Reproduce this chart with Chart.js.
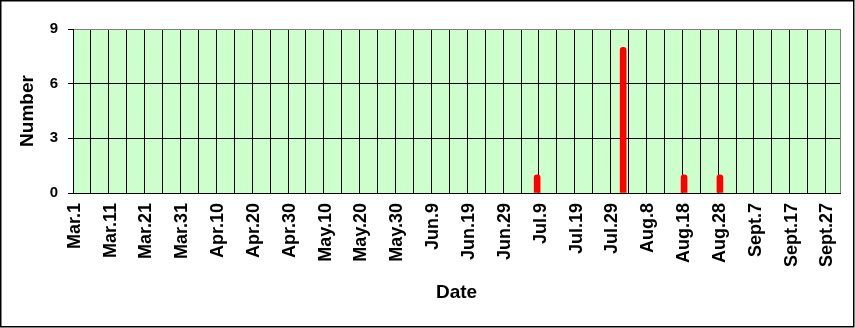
<!DOCTYPE html>
<html>
<head>
<meta charset="utf-8">
<script src="https://cdn.jsdelivr.net/npm/chart.js@4/dist/chart.umd.min.js"></script>
<style>
    body { margin: 0; background: #fff; }
    #wrap { position: relative; width: 855px; height: 328px; }
</style>
</head>
<body>
<div id="wrap"><canvas id="chart"></canvas></div>
<script>
const MONTH_NAMES = ['Mar.', 'Apr.', 'May.', 'Jun.', 'Jul.', 'Aug.', 'Sept.'];
const MONTH_DAYS = [31, 30, 31, 30, 31, 31, 30];

// days that had records, and how many
const eventDates = ['Jul.8', 'Aug.1', 'Aug.18', 'Aug.28'];
const eventCounts = [1, 8, 1, 1];

const yTicks = [0, 3, 6, 9];

const FONT = '"Liberation Sans", Arial, sans-serif';

// one category per day, Mar.1 .. Sept.30
const days = [];
MONTH_NAMES.forEach((m, i) => {
    for (let d = 1; d <= MONTH_DAYS[i]; d++) days.push(m + d);
});

const counts = days.map(() => null);
eventDates.forEach((d, i) => {
    counts[days.indexOf(d)] = eventCounts[i];
});

const frame = {
    id: 'frame',
    beforeDraw(chart) {
        const {ctx, chartArea: a} = chart;
        ctx.save();
        ctx.fillStyle = '#ccffcc';
        ctx.fillRect(a.left, a.top, a.right - a.left, a.bottom - a.top);
        ctx.restore();
    },
    afterDraw(chart) {
        const ctx = chart.ctx;
        ctx.save();
        ctx.strokeStyle = '#000';
        ctx.lineWidth = 1.5;
        ctx.strokeRect(0.75, 0.75, 853, 326);
        ctx.restore();
    }
};

new Chart(document.getElementById('chart'), {
    type: 'bar',
    data: {
        labels: days,
        datasets: [{
            data: counts,
            backgroundColor: '#ff0000',
            barThickness: 6,
            borderRadius: 3,
            borderSkipped: 'bottom'
        }]
    },
    plugins: [frame],
    options: {
        responsive: true,
        maintainAspectRatio: false,
        animation: false,
        layout: { padding: { top: 29, right: 15, left: 0, bottom: 0 } },
        plugins: {
            legend: { display: false },
            tooltip: { enabled: false }
        },
        scales: {
            x: {
                afterFit: (scale) => {
                    scale.height = 135;
                    scale.paddingLeft = 0;
                    scale.paddingRight = 0;
                },
                grid: {
                    offset: true,
                    color: (c) => c.index === undefined ? '#808080' : (c.index % 5 === 0 ? '#000' : 'rgba(0,0,0,0)'),
                    lineWidth: 1,
                    tickLength: 0
                },
                border: { color: '#000', width: 1 },
                ticks: {
                    autoSkip: false,
                    minRotation: 90,
                    maxRotation: 90,
                    padding: 10,
                    color: '#000',
                    font: { family: FONT, size: 18, weight: 'bold' },
                    callback: (v, i) => i % 10 === 0 ? days[i] : ''
                },
                title: {
                    display: true,
                    text: 'Date',
                    color: '#000',
                    font: { family: FONT, size: 19, weight: 'bold' },
                    padding: { top: 0, bottom: 23.6 }
                }
            },
            y: {
                min: 0,
                max: 9,
                afterFit: (scale) => {
                    scale.width = 73;
                    scale.paddingTop = 0;
                    scale.paddingBottom = 0;
                },
                afterBuildTicks: (scale) => { scale.ticks = yTicks.map(v => ({value: v})); },
                grid: {
                    color: (c) => c.tick && c.tick.value === 9 ? '#808080' : '#000',
                    tickColor: '#000',
                    tickLength: 5
                },
                border: { color: '#000', width: 1 },
                ticks: {
                    padding: 10,
                    color: '#000',
                    font: { family: FONT, size: 15, weight: 'bold' }
                },
                title: {
                    display: true,
                    text: 'Number',
                    color: '#000',
                    font: { family: FONT, size: 19, weight: 'bold' },
                    padding: { top: 16.6, bottom: 0 }
                }
            }
        }
    }
});
</script>
</body>
</html>
